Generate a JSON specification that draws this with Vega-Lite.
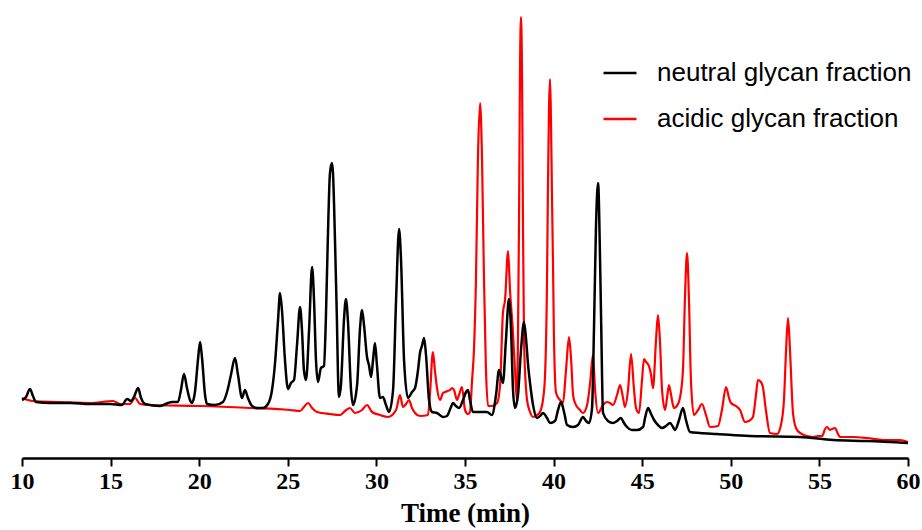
{
  "$schema": "https://vega.github.io/schema/vega-lite/v6.json",
  "width": 886,
  "height": 458,
  "autosize": {"type": "none"},
  "padding": {"left": 22, "top": 0, "right": 14, "bottom": 72},
  "background": "white",
  "config": {"view": {"stroke": null}, "axis": {"grid": false}},
  "datasets": {
    "neutral": [
      {"t":10.00,"v":58},{"t":10.23,"v":61},{"t":10.45,"v":69},{"t":10.62,"v":62},{"t":10.79,"v":56},{"t":11.58,"v":55},{"t":12.71,"v":55},{"t":13.84,"v":54},{"t":14.97,"v":54},{"t":15.64,"v":53},{"t":15.93,"v":59},{"t":16.15,"v":57},{"t":16.32,"v":61},{"t":16.55,"v":70},{"t":16.72,"v":60},{"t":16.94,"v":54},{"t":17.79,"v":52},{"t":18.24,"v":55},{"t":18.47,"v":56},{"t":18.80,"v":56},{"t":18.97,"v":68},{"t":19.14,"v":84},{"t":19.31,"v":70},{"t":19.48,"v":58},{"t":19.59,"v":55},{"t":19.76,"v":66},{"t":19.93,"v":98},{"t":20.05,"v":116},{"t":20.16,"v":100},{"t":20.33,"v":63},{"t":20.44,"v":54},{"t":20.89,"v":53},{"t":21.34,"v":56},{"t":21.63,"v":70},{"t":21.79,"v":83},{"t":22.02,"v":100},{"t":22.19,"v":83},{"t":22.42,"v":60},{"t":22.58,"v":68},{"t":22.75,"v":60},{"t":22.98,"v":52},{"t":23.26,"v":50},{"t":23.60,"v":50},{"t":23.88,"v":54},{"t":24.11,"v":68},{"t":24.28,"v":95},{"t":24.45,"v":138},{"t":24.56,"v":165},{"t":24.67,"v":148},{"t":24.84,"v":98},{"t":25.01,"v":69},{"t":25.18,"v":75},{"t":25.35,"v":78},{"t":25.52,"v":113},{"t":25.69,"v":151},{"t":25.80,"v":128},{"t":25.91,"v":88},{"t":26.03,"v":78},{"t":26.20,"v":128},{"t":26.37,"v":191},{"t":26.48,"v":158},{"t":26.59,"v":98},{"t":26.70,"v":76},{"t":26.87,"v":90},{"t":27.04,"v":92},{"t":27.15,"v":140},{"t":27.26,"v":220},{"t":27.38,"v":285},{"t":27.49,"v":295},{"t":27.55,"v":285},{"t":27.66,"v":220},{"t":27.77,"v":140},{"t":27.83,"v":85},{"t":27.89,"v":61},{"t":28.00,"v":73},{"t":28.17,"v":138},{"t":28.28,"v":159},{"t":28.39,"v":138},{"t":28.57,"v":68},{"t":28.68,"v":53},{"t":28.91,"v":73},{"t":29.07,"v":128},{"t":29.19,"v":148},{"t":29.30,"v":133},{"t":29.47,"v":101},{"t":29.58,"v":93},{"t":29.70,"v":81},{"t":29.81,"v":98},{"t":29.92,"v":115},{"t":30.03,"v":93},{"t":30.20,"v":60},{"t":30.37,"v":61},{"t":30.54,"v":53},{"t":30.71,"v":46},{"t":30.94,"v":68},{"t":31.11,"v":158},{"t":31.28,"v":229},{"t":31.39,"v":198},{"t":31.56,"v":98},{"t":31.78,"v":60},{"t":32.01,"v":66},{"t":32.18,"v":70},{"t":32.35,"v":88},{"t":32.46,"v":105},{"t":32.57,"v":112},{"t":32.69,"v":120},{"t":32.80,"v":103},{"t":32.97,"v":58},{"t":33.14,"v":46},{"t":33.42,"v":45},{"t":33.76,"v":41},{"t":33.98,"v":42},{"t":34.21,"v":51},{"t":34.32,"v":55},{"t":34.49,"v":52},{"t":34.66,"v":50},{"t":34.89,"v":58},{"t":35.06,"v":66},{"t":35.17,"v":68},{"t":35.28,"v":58},{"t":35.45,"v":46},{"t":35.85,"v":46},{"t":36.24,"v":46},{"t":36.52,"v":43},{"t":36.75,"v":63},{"t":36.92,"v":88},{"t":37.14,"v":75},{"t":37.31,"v":118},{"t":37.48,"v":159},{"t":37.60,"v":128},{"t":37.71,"v":68},{"t":37.82,"v":50},{"t":37.99,"v":63},{"t":38.16,"v":108},{"t":38.33,"v":136},{"t":38.45,"v":118},{"t":38.56,"v":93},{"t":38.67,"v":75},{"t":38.84,"v":53},{"t":39.06,"v":40},{"t":39.23,"v":42},{"t":39.40,"v":45},{"t":39.63,"v":40},{"t":39.80,"v":35},{"t":40.08,"v":37},{"t":40.25,"v":48},{"t":40.42,"v":56},{"t":40.59,"v":46},{"t":40.76,"v":33},{"t":41.09,"v":31},{"t":41.38,"v":33},{"t":41.66,"v":41},{"t":41.83,"v":37},{"t":42.00,"v":35},{"t":42.17,"v":50},{"t":42.28,"v":130},{"t":42.39,"v":230},{"t":42.51,"v":275},{"t":42.62,"v":200},{"t":42.68,"v":140},{"t":42.79,"v":45},{"t":43.07,"v":37},{"t":43.35,"v":35},{"t":43.58,"v":37},{"t":43.80,"v":40},{"t":43.97,"v":35},{"t":44.14,"v":31},{"t":44.42,"v":28},{"t":44.71,"v":28},{"t":45.05,"v":31},{"t":45.16,"v":40},{"t":45.33,"v":50},{"t":45.50,"v":44},{"t":45.67,"v":38},{"t":45.89,"v":33},{"t":46.12,"v":30},{"t":46.34,"v":32},{"t":46.57,"v":35},{"t":46.74,"v":31},{"t":46.85,"v":28},{"t":47.08,"v":38},{"t":47.30,"v":50},{"t":47.47,"v":38},{"t":47.70,"v":26},{"t":48.26,"v":25},{"t":49.22,"v":24},{"t":51.08,"v":22},{"t":53.91,"v":21},{"t":55.77,"v":18},{"t":57.69,"v":17},{"t":60.00,"v":15}
    ],
    "acidic": [
      {"t":10.00,"v":60},{"t":10.62,"v":57},{"t":12.14,"v":56},{"t":13.84,"v":55},{"t":15.14,"v":57},{"t":15.53,"v":54},{"t":16.09,"v":54},{"t":16.38,"v":60},{"t":16.66,"v":54},{"t":17.22,"v":53},{"t":20.05,"v":52},{"t":22.87,"v":50},{"t":25.12,"v":48},{"t":25.69,"v":47},{"t":25.91,"v":51},{"t":26.14,"v":55},{"t":26.37,"v":50},{"t":26.65,"v":46},{"t":27.38,"v":44},{"t":27.95,"v":43},{"t":28.23,"v":47},{"t":28.51,"v":50},{"t":28.79,"v":45},{"t":29.19,"v":48},{"t":29.47,"v":53},{"t":29.75,"v":46},{"t":30.20,"v":43},{"t":30.65,"v":41},{"t":31.11,"v":48},{"t":31.33,"v":63},{"t":31.50,"v":51},{"t":31.67,"v":54},{"t":31.84,"v":58},{"t":32.01,"v":50},{"t":32.18,"v":45},{"t":32.46,"v":42},{"t":32.91,"v":43},{"t":33.02,"v":63},{"t":33.19,"v":106},{"t":33.30,"v":88},{"t":33.42,"v":70},{"t":33.59,"v":58},{"t":33.76,"v":65},{"t":33.87,"v":66},{"t":34.15,"v":68},{"t":34.27,"v":70},{"t":34.38,"v":68},{"t":34.55,"v":58},{"t":34.66,"v":63},{"t":34.83,"v":71},{"t":35.00,"v":48},{"t":35.17,"v":44},{"t":35.28,"v":46},{"t":35.40,"v":78},{"t":35.51,"v":110},{"t":35.62,"v":180},{"t":35.73,"v":300},{"t":35.85,"v":355},{"t":35.96,"v":300},{"t":36.07,"v":180},{"t":36.18,"v":90},{"t":36.30,"v":52},{"t":36.52,"v":52},{"t":36.81,"v":55},{"t":36.98,"v":73},{"t":37.14,"v":145},{"t":37.26,"v":158},{"t":37.43,"v":207},{"t":37.54,"v":168},{"t":37.71,"v":125},{"t":37.82,"v":88},{"t":37.93,"v":58},{"t":37.99,"v":120},{"t":38.05,"v":240},{"t":38.10,"v":380},{"t":38.16,"v":441},{"t":38.22,"v":380},{"t":38.27,"v":240},{"t":38.33,"v":120},{"t":38.44,"v":70},{"t":38.50,"v":58},{"t":38.67,"v":46},{"t":38.84,"v":41},{"t":39.06,"v":43},{"t":39.23,"v":46},{"t":39.40,"v":58},{"t":39.51,"v":80},{"t":39.63,"v":180},{"t":39.68,"v":270},{"t":39.74,"v":350},{"t":39.80,"v":379},{"t":39.85,"v":340},{"t":39.91,"v":260},{"t":39.97,"v":190},{"t":40.02,"v":120},{"t":40.14,"v":65},{"t":40.36,"v":58},{"t":40.53,"v":55},{"t":40.70,"v":88},{"t":40.87,"v":121},{"t":40.99,"v":98},{"t":41.10,"v":63},{"t":41.21,"v":55},{"t":41.49,"v":48},{"t":41.66,"v":45},{"t":41.89,"v":53},{"t":42.06,"v":75},{"t":42.22,"v":103},{"t":42.34,"v":68},{"t":42.51,"v":45},{"t":42.79,"v":53},{"t":43.01,"v":56},{"t":43.18,"v":55},{"t":43.35,"v":53},{"t":43.58,"v":63},{"t":43.75,"v":73},{"t":43.92,"v":60},{"t":44.03,"v":51},{"t":44.20,"v":68},{"t":44.37,"v":104},{"t":44.54,"v":68},{"t":44.65,"v":50},{"t":44.82,"v":45},{"t":44.99,"v":78},{"t":45.10,"v":99},{"t":45.22,"v":96},{"t":45.38,"v":92},{"t":45.50,"v":83},{"t":45.61,"v":70},{"t":45.78,"v":118},{"t":45.89,"v":143},{"t":46.00,"v":118},{"t":46.12,"v":68},{"t":46.29,"v":48},{"t":46.40,"v":60},{"t":46.51,"v":73},{"t":46.63,"v":63},{"t":46.79,"v":50},{"t":46.96,"v":52},{"t":47.13,"v":60},{"t":47.30,"v":88},{"t":47.41,"v":158},{"t":47.53,"v":205},{"t":47.64,"v":158},{"t":47.75,"v":78},{"t":47.92,"v":43},{"t":48.15,"v":48},{"t":48.37,"v":54},{"t":48.60,"v":43},{"t":48.83,"v":31},{"t":49.28,"v":32},{"t":49.50,"v":48},{"t":49.73,"v":71},{"t":49.90,"v":60},{"t":50.01,"v":55},{"t":50.29,"v":52},{"t":50.52,"v":48},{"t":50.80,"v":36},{"t":51.02,"v":37},{"t":51.25,"v":41},{"t":51.42,"v":63},{"t":51.53,"v":78},{"t":51.70,"v":76},{"t":51.81,"v":71},{"t":51.98,"v":48},{"t":52.21,"v":25},{"t":52.61,"v":24},{"t":52.83,"v":33},{"t":53.00,"v":58},{"t":53.12,"v":108},{"t":53.23,"v":140},{"t":53.34,"v":108},{"t":53.51,"v":45},{"t":53.68,"v":30},{"t":53.91,"v":25},{"t":54.64,"v":21},{"t":54.92,"v":22},{"t":55.15,"v":22},{"t":55.32,"v":29},{"t":55.43,"v":31},{"t":55.60,"v":28},{"t":55.71,"v":29},{"t":55.88,"v":30},{"t":56.05,"v":24},{"t":56.17,"v":21},{"t":56.90,"v":21},{"t":57.69,"v":20},{"t":58.59,"v":18},{"t":59.55,"v":18},{"t":60.00,"v":16}
    ]
  },
  "layer": [
    {
      "data": {"name": "acidic"},
      "mark": {"type": "line", "strokeWidth": 2.2, "interpolate": "monotone"},
      "encoding": {
        "x": {
          "field": "t", "type": "quantitative",
          "scale": {"domain": [10, 60], "nice": false, "zero": false},
          "axis": {
            "values": [10, 15, 20, 25, 30, 35, 40, 45, 50, 55, 60],
            "title": "Time (min)",
            "titleFont": "Liberation Serif", "titleFontWeight": "bold", "titleFontSize": 27, "titleColor": "black", "titlePadding": 7,
            "labelFont": "Liberation Serif", "labelFontWeight": "bold", "labelFontSize": 24, "labelColor": "black", "labelPadding": 3,
            "labelFlush": false, "labelOverlap": false,
            "domainColor": "black", "domainWidth": 2.5,
            "tickColor": "black", "tickWidth": 2, "tickSize": 8
          }
        },
        "y": {"field": "v", "type": "quantitative", "scale": {"domain": [0, 458], "nice": false, "zero": false}, "axis": null},
        "color": {
          "datum": "acidic glycan fraction",
          "scale": {"domain": ["neutral glycan fraction", "acidic glycan fraction"], "range": ["#000000", "#ff0000"]},
          "legend": {
            "title": null, "orient": "none", "legendX": 580, "legendY": 55,
            "labelFont": "Liberation Sans", "labelFontSize": 26, "labelColor": "black", "labelLimit": 500,
            "symbolType": "stroke", "symbolSize": 1089, "symbolStrokeWidth": 2.5,
            "labelOffset": 19, "rowPadding": 15
          }
        }
      }
    },
    {
      "data": {"name": "neutral"},
      "mark": {"type": "line", "strokeWidth": 2.5, "interpolate": "monotone"},
      "encoding": {
        "x": {"field": "t", "type": "quantitative"},
        "y": {"field": "v", "type": "quantitative"},
        "color": {"datum": "neutral glycan fraction"}
      }
    }
  ]
}
